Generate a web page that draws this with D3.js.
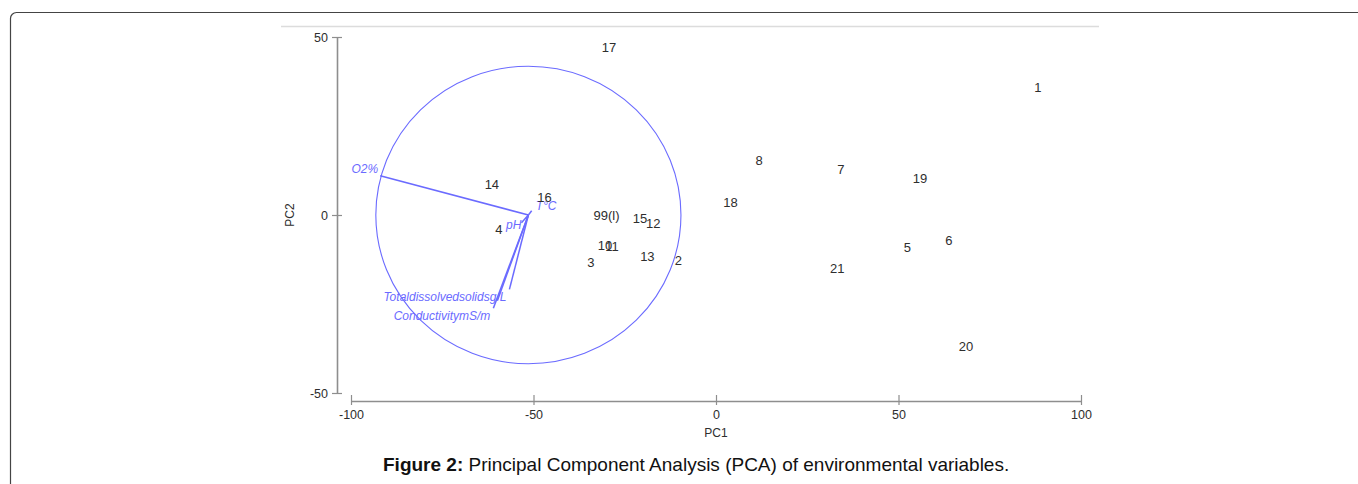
<!DOCTYPE html>
<html>
<head>
<meta charset="utf-8">
<script src="https://cdn.jsdelivr.net/npm/d3@7"></script>
<style>
  html, body { margin: 0; padding: 0; background: #fff; }
  svg { display: block; }
</style>
</head>
<body>
<svg id="chart" width="1358" height="484"></svg>
<script>
// ---- data ----
const sampleNames = ["1","2","3","4","5","6","7","8","9","9(l)","10","11","12","13","14","15","16","17","18","19","20","21"];
const pc1Values   = [88.2,-10.3,-34.3,-59.5,52.4,63.8,34.2,11.8,-32.6,-29.0,-30.4,-28.5,-17.2,-18.8,-61.4,-20.8,-47.0,-29.3,4.0,55.9,68.5,33.2];
const pc2Values   = [36.0,-12.6,-13.4,-4.0,-9.1,-7.0,12.8,15.3,0.0,0.0,-8.5,-8.7,-2.3,-11.7,8.6,-0.9,4.9,47.2,3.7,10.3,-37.0,-15.0];

const varNames    = ["O2%","T°C","pH","Totaldissolvedsolidsg/L","ConductivitymS/m",""];
const varPC1      = [-40.6, 0.9, -1.9, -8.5, -9.6, -5.2];
const varPC2      = [ 11.0, 1.2, -2.2, -24.1, -26.2, -20.9];
const biplotOrigin = [-51.4, 0];
const circleRadius = 41.8;

const xTicks = [-100,-50,0,50,100];
const yTicks = [-50,0,50];
const xTitle = "PC1", yTitle = "PC2";
const captionBold = "Figure 2:";
const captionText = " Principal Component Analysis (PCA) of environmental variables.";

// ---- drawing ----
const svg = d3.select("#chart");
const font = "Liberation Sans, Arial, sans-serif";
const textCol = "#2e2e2e";
const axisCol = "#8e8e8e";
const blue = "#6b6bff";

// page frame
svg.append("rect").attr("x",10.5).attr("y",12.5).attr("width",1400).attr("height",520)
  .attr("rx",6).attr("fill","none").attr("stroke","#444").attr("stroke-width",1.2);
svg.append("line").attr("x1",281).attr("x2",1099).attr("y1",26.5).attr("y2",26.5)
  .attr("stroke","#dcdcdc").attr("stroke-width",1.5);

const x = d3.scaleLinear().domain([-100,100]).range([351,1081]);
const y = d3.scaleLinear().domain([-50,50]).range([393,37]);
const fmt = d => String(d);

// x axis
const gx = svg.append("g").attr("transform","translate(0,401)")
  .call(d3.axisBottom(x).tickValues(xTicks).tickFormat(fmt).tickSizeOuter(0));
gx.select(".domain").attr("stroke",axisCol).attr("stroke-width",1.6);
gx.selectAll(".tick line").attr("stroke",axisCol).attr("stroke-width",1.2).attr("y1",-6).attr("y2",4);
gx.selectAll(".tick text").attr("y",9).attr("font-family",font).attr("font-size",12.5).attr("fill",textCol);

// y axis
const gy = svg.append("g").attr("transform","translate(337,0)")
  .call(d3.axisLeft(y).tickValues(yTicks).tickFormat(fmt).tickSizeOuter(0));
gy.select(".domain").attr("stroke",axisCol).attr("stroke-width",1.6);
gy.selectAll(".tick line").attr("stroke",axisCol).attr("stroke-width",1.2).attr("x1",-5).attr("x2",5);
gy.selectAll(".tick text").attr("x",-9).attr("font-family",font).attr("font-size",12.5).attr("fill",textCol);
svg.selectAll(".domain").attr("fill","none");

// axis titles
svg.append("text").attr("x",x(0)).attr("y",437).attr("text-anchor","middle")
  .attr("font-family",font).attr("font-size",12).attr("fill",textCol).text(xTitle);
svg.append("text").attr("transform",`translate(294,${y(0)}) rotate(-90)`).attr("text-anchor","middle")
  .attr("font-family",font).attr("font-size",12).attr("fill",textCol).text(yTitle);

// biplot circle
const ox = x(biplotOrigin[0]), oy = y(biplotOrigin[1]);
svg.append("ellipse").attr("cx",ox).attr("cy",oy)
  .attr("rx",x(circleRadius)-x(0)).attr("ry",y(0)-y(circleRadius))
  .attr("fill","none").attr("stroke",blue).attr("stroke-width",1.1);

// loading vectors
const vars = varNames.map((n,i)=>({name:n, dx:varPC1[i], dy:varPC2[i]}));
svg.append("g").selectAll("line").data(vars).join("line")
  .attr("x1",ox).attr("y1",oy)
  .attr("x2",d=>x(biplotOrigin[0]+d.dx)).attr("y2",d=>y(biplotOrigin[1]+d.dy))
  .attr("stroke",blue).attr("stroke-width",1.5);

const labelPlace = {
  "O2%": {anchor:"end", ox:-2, oy:-3},
  "T°C": {anchor:"start", ox:4, oy:-1},
  "pH": {anchor:"end", ox:0, oy:6},
  "Totaldissolvedsolidsg/L": {anchor:"end", ox:9, oy:0},
  "ConductivitymS/m": {anchor:"end", ox:-3, oy:12}
};
svg.append("g").selectAll("text").data(vars.filter(d=>d.name)).join("text")
  .attr("x",d=>x(biplotOrigin[0]+d.dx)+labelPlace[d.name].ox)
  .attr("y",d=>y(biplotOrigin[1]+d.dy)+labelPlace[d.name].oy)
  .attr("text-anchor",d=>labelPlace[d.name].anchor)
  .attr("font-family",font).attr("font-style","italic").attr("font-size",12)
  .attr("fill",blue).text(d=>d.name);

// sample labels
const samples = sampleNames.map((n,i)=>({name:n, pc1:pc1Values[i], pc2:pc2Values[i]}));
svg.append("g").selectAll("text").data(samples).join("text")
  .attr("x",d=>x(d.pc1)).attr("y",d=>y(d.pc2)).attr("dy","0.36em")
  .attr("text-anchor","middle").attr("font-family",font).attr("font-size",13)
  .attr("fill",textCol).text(d=>d.name);

// caption
const cap = svg.append("text").attr("x",383).attr("y",471)
  .attr("font-family",font).attr("font-size",19).attr("fill","#111");
cap.append("tspan").attr("font-weight","bold").text(captionBold);
cap.append("tspan").text(captionText);
</script>
</body>
</html>
